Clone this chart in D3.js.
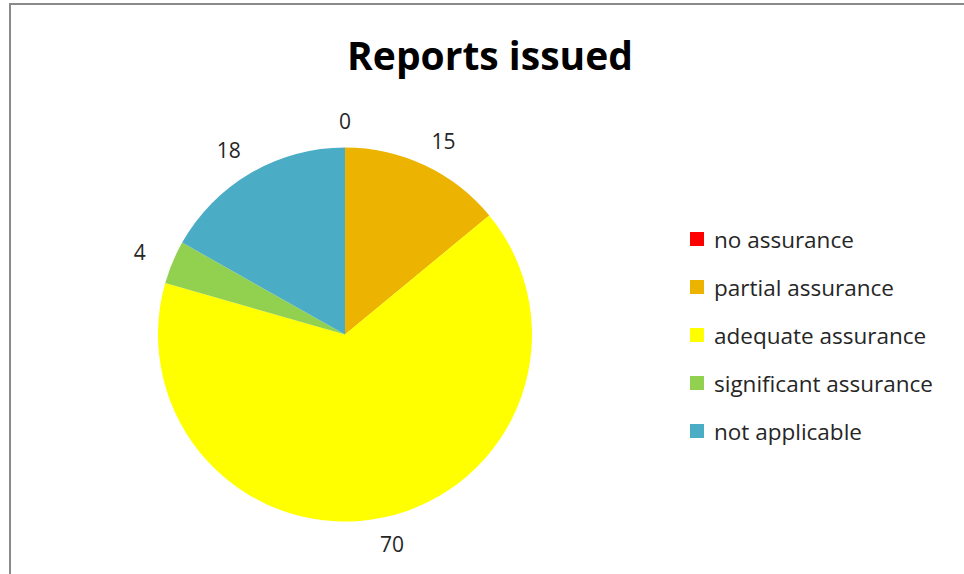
<!DOCTYPE html>
<html>
<head>
<meta charset="utf-8">
<script src="https://cdn.jsdelivr.net/npm/d3@7"></script>
<style>
  html, body { margin: 0; padding: 0; background: #fff; }
  svg { display: block; font-family: "Open Sans", Lato, sans-serif; }
</style>
</head>
<body>
<div id="chart"></div>
<script>
//////////////////////////////  Data  //////////////////////////////
const categories = ["no assurance", "partial assurance", "adequate assurance", "significant assurance", "not applicable"];
const values = [0, 15, 70, 4, 18];
const colors = ["#ff0000", "#ecb300", "#ffff00", "#92d050", "#4bacc6"];

//////////////////////////////  Init  //////////////////////////////
const width = 964, height = 574;
const svg = d3.select("#chart").append("svg")
  .attr("width", width).attr("height", height);

// chart frame (only top + left edges visible in the picture)
svg.append("path")
  .attr("d", `M10,${height} V4 H${width}`)
  .attr("fill", "none")
  .attr("stroke", "#8a8a8a")
  .attr("stroke-width", 2);

// title
svg.append("text")
  .attr("x", 490).attr("y", 70)
  .attr("text-anchor", "middle")
  .attr("font-size", 39).attr("font-weight", "bold")
  .attr("fill", "#000")
  .text("Reports issued");

// pie
const cx = 345, cy = 334.5, radius = 187;
const g = svg.append("g").attr("transform", `translate(${cx},${cy})`);

const pie = d3.pie().sort(null).value(d => d.value);
const data = categories.map((c, i) => ({ name: c, value: values[i], color: colors[i] }));
const arcs = pie(data);
const arc = d3.arc().innerRadius(0).outerRadius(radius);

g.selectAll("path.slice")
  .data(arcs)
  .enter()
  .append("path")
  .attr("class", "slice")
  .attr("d", arc)
  .attr("fill", d => d.data.color);

// value labels outside the pie
const labelR = 214;
g.selectAll("text.val")
  .data(arcs)
  .enter()
  .append("text")
  .attr("class", "val")
  .attr("font-size", 21)
  .attr("fill", "#262626")
  .attr("text-anchor", "middle")
  .attr("dominant-baseline", "central")
  .text(d => d.data.value)
  .attr("x", function (d) {
    const a = (d.startAngle + d.endAngle) / 2;
    const w = this.getComputedTextLength();
    return labelR * Math.sin(a) + Math.sin(a) * w * 0.7;
  })
  .attr("y", d => {
    const a = (d.startAngle + d.endAngle) / 2;
    return -labelR * Math.cos(a);
  });

// legend
const legend = svg.append("g").attr("transform", "translate(690,239)");
const item = legend.selectAll("g")
  .data(data)
  .enter()
  .append("g")
  .attr("transform", (d, i) => `translate(0,${i * 48})`);

item.append("rect")
  .attr("x", 0).attr("y", -7)
  .attr("width", 14).attr("height", 14)
  .attr("fill", d => d.color);

item.append("text")
  .attr("x", 24).attr("y", 0)
  .attr("dominant-baseline", "central")
  .attr("font-size", 22.5)
  .attr("fill", "#262626")
  .text(d => d.name);
</script>
</body>
</html>
